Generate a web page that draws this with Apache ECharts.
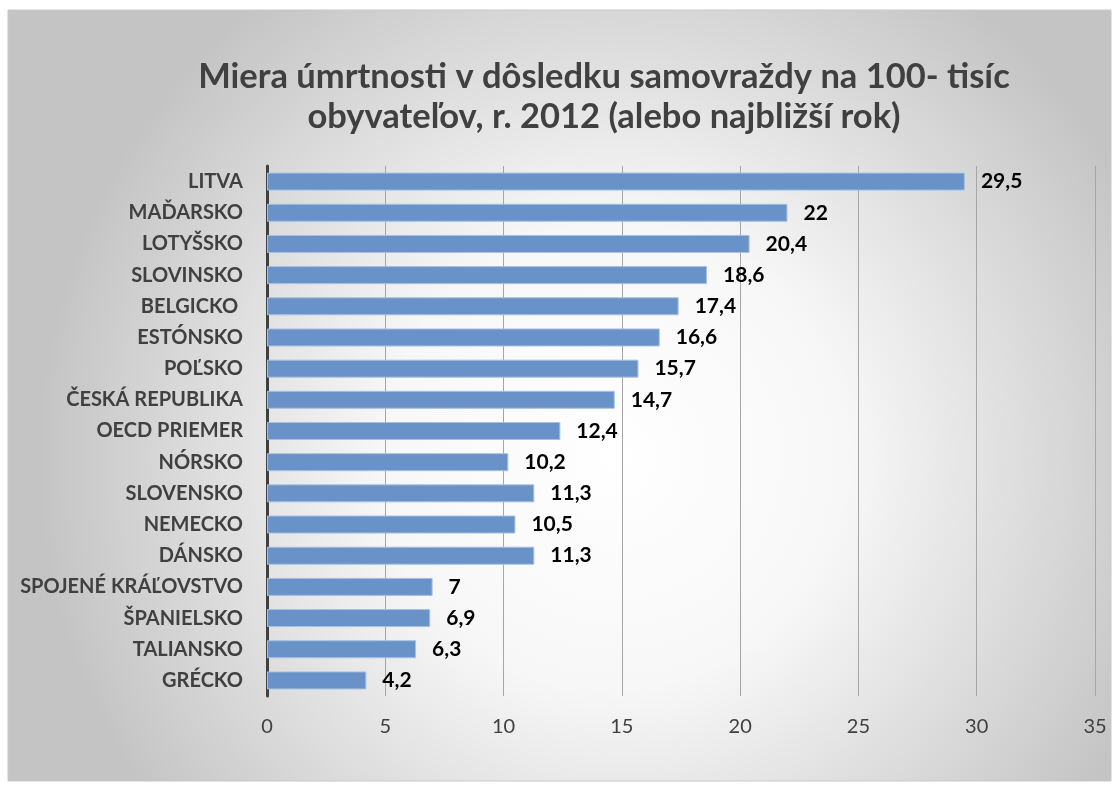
<!DOCTYPE html>
<html>
<head>
<meta charset="utf-8">
<script src="https://cdn.jsdelivr.net/npm/echarts@6/dist/echarts.min.js"></script>
<style>
  html, body { margin: 0; padding: 0; background: #fff; }
  #main { width: 1119px; height: 789px; }
</style>
</head>
<body>
<div id="main"></div>
<script>
const countries = [
  'LITVA', 'MAĎARSKO', 'LOTYŠSKO', 'SLOVINSKO', 'BELGICKO ', 'ESTÓNSKO', 'POĽSKO',
  'ČESKÁ REPUBLIKA', 'OECD PRIEMER', 'NÓRSKO', 'SLOVENSKO', 'NEMECKO', 'DÁNSKO',
  'SPOJENÉ KRÁĽOVSTVO', 'ŠPANIELSKO', 'TALIANSKO', 'GRÉCKO'
]
const rates = [29.5, 22, 20.4, 18.6, 17.4, 16.6, 15.7, 14.7, 12.4, 10.2, 11.3, 10.5, 11.3, 7, 6.9, 6.3, 4.2]
const xTicks = [0, 35, 5] // min, max, step

const fontFam = 'Lato, "Open Sans", sans-serif'
const chart = echarts.init(document.getElementById('main'))

const option = {
  backgroundColor: '#fff',
  graphic: [
    {
      type: 'rect',
      z: -10,
      silent: true,
      shape: { x: 8, y: 10, width: 1103, height: 771 },
      style: {
        fill: new echarts.graphic.RadialGradient(0.55, 0.58, 0.75, [
          { offset: 0, color: '#ffffff' },
          { offset: 0.4, color: '#f7f7f7' },
          { offset: 1, color: '#c4c4c4' }
        ]),
        stroke: '#c8c8c8',
        lineWidth: 1
      }
    }
  ],
  title: {
    text: 'Miera úmrtnosti v dôsledku samovraždy na 100- tisíc\nobyvateľov, r. 2012 (alebo najbližší rok)',
    left: 599,
    top: 52,
    textAlign: 'center',
    textStyle: {
      fontFamily: fontFam,
      fontSize: 34.5,
      fontWeight: 'bold',
      color: '#404040',
      lineHeight: 40
    }
  },
  grid: { left: 267, right: 24, top: 166, bottom: 93 },
  xAxis: {
    type: 'value',
    min: xTicks[0],
    max: xTicks[1],
    interval: xTicks[2],
    axisLine: { show: false },
    axisTick: { show: false },
    axisLabel: { color: '#404040', fontSize: 20, fontFamily: fontFam, margin: 21 },
    splitLine: { lineStyle: { color: '#a6a6a6', width: 1 } }
  },
  yAxis: {
    type: 'category',
    inverse: true,
    data: countries,
    axisLine: { show: true, lineStyle: { color: '#404040', width: 3 } },
    axisTick: { show: false },
    axisLabel: {
      color: '#404040',
      fontSize: 20,
      fontWeight: 'bold',
      fontFamily: fontFam,
      margin: 24
    }
  },
  series: [
    {
      type: 'bar',
      data: rates,
      barWidth: 18,
      itemStyle: { color: '#6892c8', borderColor: '#a8c0e0', borderWidth: 1 },
      label: {
        show: true,
        position: 'right',
        distance: 16,
        color: '#000',
        fontSize: 21,
        fontWeight: 'bold',
        fontFamily: fontFam,
        formatter: p => String(p.value).replace('.', ',')
      }
    }
  ]
}

chart.setOption(option)
</script>
</body>
</html>
